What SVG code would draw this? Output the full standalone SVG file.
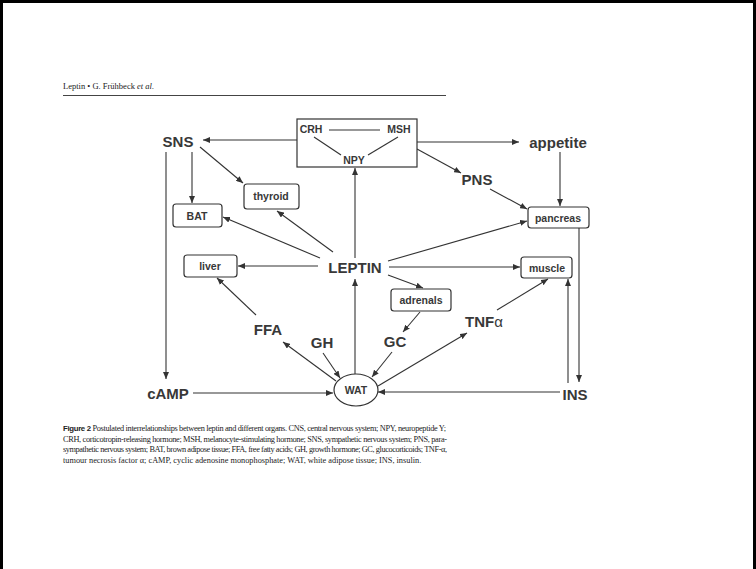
<svg xmlns="http://www.w3.org/2000/svg" width="756" height="569" viewBox="0 0 756 569">
<style>
.lbl{font-family:"Liberation Sans",Arial,sans-serif;font-size:15px;font-weight:bold;fill:#383838;text-anchor:middle}
.blbl{font-family:"Liberation Sans",Arial,sans-serif;font-size:10.5px;font-weight:bold;fill:#383838;text-anchor:middle}
.box{fill:#fff;stroke:#333;stroke-width:1.2}
.cn line{stroke:#333;stroke-width:1.1;fill:none}
.cap{font-family:"Liberation Serif","Times New Roman",serif;font-size:8.3px;fill:#222}
</style>
<defs>
<marker id="ah" markerUnits="userSpaceOnUse" markerWidth="8" markerHeight="6" refX="7" refY="3" orient="auto">
<path d="M0,0 L7,3 L0,6 z" fill="#333"/>
</marker>
</defs>
<rect x="0" y="0" width="756" height="569" fill="#fff"/>
<path d="M1.5,569 V1.5 H754.5 V569" fill="none" stroke="#000" stroke-width="3"/>

<text x="63" y="89" class="cap" style="font-size:8.5px">Leptin • G. Frühbeck <tspan font-style="italic">et al.</tspan></text>
<line x1="63" y1="95.5" x2="446" y2="95.5" stroke="#444" stroke-width="1"/>

<g class="cn" id="connectors">
<line x1="297" y1="140" x2="203" y2="140" marker-end="url(#ah)"/>
<line x1="192" y1="152" x2="192" y2="203" marker-end="url(#ah)"/>
<line x1="200" y1="147" x2="243" y2="183" marker-end="url(#ah)"/>
<line x1="166" y1="152" x2="166" y2="379" marker-end="url(#ah)"/>
<line x1="193" y1="393" x2="333" y2="393" marker-end="url(#ah)"/>
<line x1="560" y1="392" x2="378" y2="392" marker-end="url(#ah)"/>
<line x1="417" y1="142" x2="519" y2="142" marker-end="url(#ah)"/>
<line x1="417" y1="149" x2="461" y2="173" marker-end="url(#ah)"/>
<line x1="560" y1="152" x2="560" y2="206" marker-end="url(#ah)"/>
<line x1="490" y1="189" x2="527" y2="209" marker-end="url(#ah)"/>
<line x1="355" y1="258" x2="355" y2="168" marker-end="url(#ah)"/>
<line x1="320" y1="258" x2="223" y2="217" marker-end="url(#ah)"/>
<line x1="333" y1="252" x2="277" y2="211" marker-end="url(#ah)"/>
<line x1="318" y1="266" x2="238" y2="266" marker-end="url(#ah)"/>
<line x1="388" y1="261" x2="527" y2="221" marker-end="url(#ah)"/>
<line x1="389" y1="267" x2="520" y2="267" marker-end="url(#ah)"/>
<line x1="388" y1="275" x2="423" y2="288" marker-end="url(#ah)"/>
<line x1="420" y1="312" x2="403" y2="332" marker-end="url(#ah)"/>
<line x1="392" y1="352" x2="372" y2="377" marker-end="url(#ah)"/>
<line x1="323" y1="353" x2="340" y2="378" marker-end="url(#ah)"/>
<line x1="336" y1="381" x2="283" y2="342" marker-end="url(#ah)"/>
<line x1="256" y1="315" x2="217" y2="278" marker-end="url(#ah)"/>
<line x1="355" y1="374" x2="355" y2="279" marker-end="url(#ah)"/>
<line x1="378" y1="386" x2="467" y2="333" marker-end="url(#ah)"/>
<line x1="497" y1="310" x2="548" y2="279" marker-end="url(#ah)"/>
<line x1="579" y1="228" x2="579" y2="382" marker-end="url(#ah)"/>
<line x1="568" y1="383" x2="568" y2="279" marker-end="url(#ah)"/>
</g>

<g id="CNS">
<rect class="box" x="297" y="119" width="120" height="48"/>
<text class="blbl" x="311" y="133">CRH</text>
<text class="blbl" x="399" y="133">MSH</text>
<text class="blbl" x="354" y="164">NPY</text>
<g class="cn">
<line x1="329" y1="130" x2="380" y2="130"/>
<line x1="314" y1="137" x2="341" y2="155"/>
<line x1="398" y1="137" x2="368" y2="155"/>
</g>
</g>
<g id="SNS"><text class="lbl" x="178" y="147">SNS</text></g>
<g id="appetite"><text class="lbl" x="558" y="148">appetite</text></g>
<g id="PNS"><text class="lbl" x="477" y="185">PNS</text></g>
<g id="LEPTIN"><text class="lbl" x="355" y="273">LEPTIN</text></g>
<g id="FFA"><text class="lbl" x="268" y="335">FFA</text></g>
<g id="GH"><text class="lbl" x="322" y="348">GH</text></g>
<g id="GC"><text class="lbl" x="395" y="347">GC</text></g>
<g id="TNFa"><text class="lbl" x="484" y="327">TNF<tspan font-weight="normal">α</tspan></text></g>
<g id="cAMP"><text class="lbl" x="168" y="399">cAMP</text></g>
<g id="INS"><text class="lbl" x="575" y="400">INS</text></g>

<g id="BAT"><rect class="box" x="173" y="204" width="49" height="23" rx="3"/><text class="blbl" x="197" y="220">BAT</text></g>
<g id="thyroid"><rect class="box" x="244" y="184" width="55" height="25" rx="3"/><text class="blbl" x="271" y="200">thyroid</text></g>
<g id="liver"><rect class="box" x="184" y="255" width="53" height="22" rx="3"/><text class="blbl" x="210" y="270">liver</text></g>
<g id="adrenals"><rect class="box" x="391" y="289" width="60" height="22" rx="3"/><text class="blbl" x="421" y="304">adrenals</text></g>
<g id="pancreas"><rect class="box" x="528" y="207" width="61" height="21" rx="3"/><text class="blbl" x="558" y="222">pancreas</text></g>
<g id="muscle"><rect class="box" x="521" y="257" width="51" height="21" rx="3"/><text class="blbl" x="547" y="272">muscle</text></g>
<g id="WAT"><ellipse class="box" cx="356" cy="390" rx="22" ry="16"/><text class="blbl" x="356" y="394">WAT</text></g>

<g id="caption">
<text class="cap" x="63" y="431" textLength="383" lengthAdjust="spacing"><tspan font-family="Liberation Sans,Arial,sans-serif" font-weight="bold" font-size="7.8">Figure 2</tspan> Postulated interrelationships between leptin and different organs. CNS, central nervous system; NPY, neuropeptide Y;</text>
<text class="cap" x="63" y="441.5" textLength="384" lengthAdjust="spacing">CRH, corticotropin-releasing hormone; MSH, melanocyte-stimulating hormone; SNS, sympathetic nervous system; PNS, para-</text>
<text class="cap" x="63" y="452" textLength="384" lengthAdjust="spacing">sympathetic nervous system; BAT, brown adipose tissue; FFA, free fatty acids; GH, growth hormone; GC, glucocorticoids; TNF-α,</text>
<text class="cap" x="63" y="462.5">tumour necrosis factor α; cAMP, cyclic adenosine monophosphate; WAT, white adipose tissue; INS, insulin.</text>
</g>
</svg>
